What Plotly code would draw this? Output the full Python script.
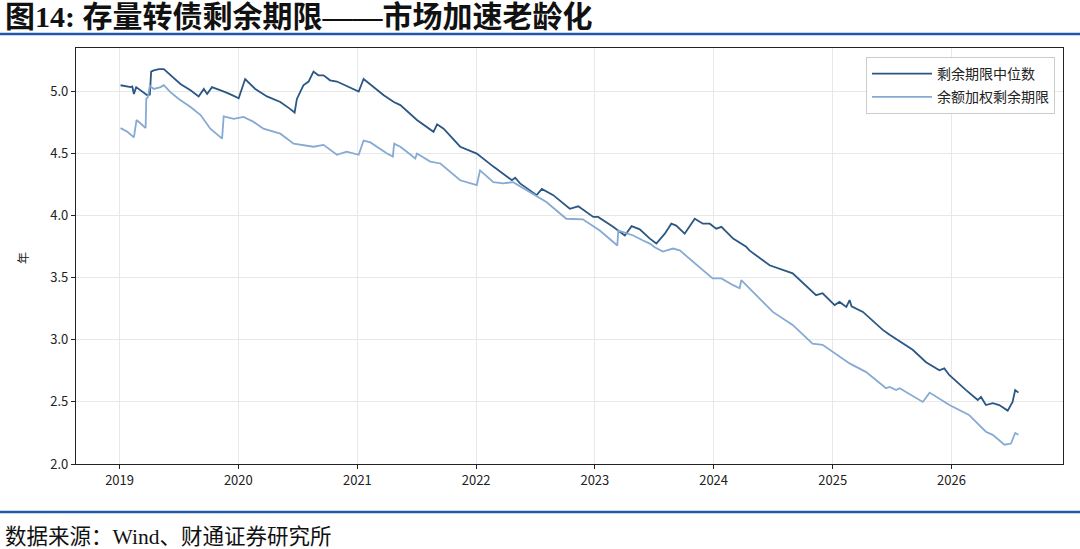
import plotly.graph_objects as go

# 剩余期限中位数 (dark line)
median_dates = [
    "2019-01-04", "2019-02-04", "2019-02-09", "2019-02-14", "2019-02-21", "2019-03-27", "2019-04-04",
    "2019-04-08", "2019-04-16", "2019-05-02", "2019-05-17", "2019-06-12", "2019-07-07", "2019-08-07",
    "2019-09-01", "2019-09-17", "2019-09-27", "2019-10-12", "2019-10-28", "2019-11-22", "2019-12-13",
    "2020-01-02", "2020-01-22", "2020-02-22", "2020-03-29", "2020-05-09", "2020-06-08", "2020-06-22",
    "2020-06-29", "2020-07-19", "2020-08-04", "2020-08-19", "2020-09-03", "2020-09-19", "2020-10-09",
    "2020-10-30", "2020-11-24", "2020-12-20", "2021-01-05", "2021-01-20", "2021-02-20", "2021-03-23",
    "2021-04-23", "2021-05-13", "2021-07-03", "2021-08-23", "2021-09-03", "2021-09-23", "2021-11-13",
    "2022-01-03", "2022-02-23", "2022-04-21", "2022-05-01", "2022-05-16", "2022-07-06", "2022-07-22",
    "2022-08-26", "2022-10-16", "2022-11-11", "2022-12-27", "2023-01-11", "2023-02-26", "2023-04-03",
    "2023-04-24", "2023-05-19", "2023-06-19", "2023-07-09", "2023-08-04", "2023-08-24", "2023-09-08",
    "2023-10-04", "2023-10-19", "2023-11-04", "2023-11-29", "2023-12-20", "2024-01-09", "2024-01-25",
    "2024-03-01", "2024-04-10", "2024-04-20", "2024-06-21", "2024-08-31", "2024-11-11", "2024-12-01",
    "2025-01-07", "2025-01-22", "2025-02-12", "2025-02-22", "2025-02-28", "2025-04-04", "2025-06-04",
    "2025-06-25", "2025-08-05", "2025-09-04", "2025-10-15", "2025-11-25", "2025-12-10", "2025-12-26",
    "2026-02-15", "2026-03-23", "2026-04-02", "2026-04-17", "2026-05-08", "2026-05-28", "2026-06-23",
    "2026-07-08", "2026-07-16", "2026-07-26",
]
median_values = [
    5.05, 5.035, 5.04, 4.98, 5.035, 4.97, 4.975,
    5.16, 5.17, 5.18, 5.18, 5.12, 5.06, 5.01,
    4.96, 5.02, 4.98, 5.035, 5.02, 4.995, 4.97,
    4.945, 5.10, 5.02, 4.96, 4.915, 4.86, 4.83,
    4.94, 5.05, 5.08, 5.16, 5.13, 5.13, 5.09,
    5.08, 5.05, 5.02, 5.00, 5.10, 5.035, 4.97,
    4.915, 4.89, 4.77, 4.675, 4.735, 4.70, 4.555,
    4.50, 4.395, 4.285, 4.305, 4.26, 4.165, 4.215,
    4.165, 4.055, 4.075, 3.99, 3.99, 3.91, 3.84,
    3.915, 3.89, 3.815, 3.775, 3.855, 3.935, 3.92,
    3.855, 3.91, 3.975, 3.935, 3.935, 3.895, 3.91,
    3.815, 3.75, 3.72, 3.60, 3.535, 3.36, 3.375,
    3.28, 3.305, 3.265, 3.32, 3.27, 3.225, 3.08,
    3.04, 2.97, 2.92, 2.82, 2.755, 2.77, 2.715,
    2.595, 2.515, 2.54, 2.475, 2.49, 2.475, 2.43,
    2.50, 2.595, 2.575,
]

# 余额加权剩余期限 (light line)
weighted_dates = [
    "2019-01-04", "2019-01-25", "2019-02-14", "2019-02-22", "2019-03-12", "2019-03-22", "2019-03-24",
    "2019-03-29", "2019-04-04", "2019-04-16", "2019-05-07", "2019-05-17", "2019-06-06", "2019-07-02",
    "2019-08-07", "2019-09-07", "2019-10-07", "2019-11-12", "2019-11-17", "2019-12-18", "2020-01-17",
    "2020-02-17", "2020-03-18", "2020-05-09", "2020-06-19", "2020-08-19", "2020-09-19", "2020-10-30",
    "2020-11-29", "2021-01-05", "2021-01-20", "2021-02-10", "2021-04-02", "2021-04-20", "2021-04-24",
    "2021-05-13", "2021-06-02", "2021-06-28", "2021-07-03", "2021-08-13", "2021-09-13", "2021-11-13",
    "2022-01-03", "2022-01-13", "2022-02-23", "2022-03-25", "2022-04-25", "2022-06-15", "2022-08-05",
    "2022-10-05", "2022-11-25", "2023-01-16", "2023-03-11", "2023-03-14", "2023-04-29", "2023-05-29",
    "2023-06-19", "2023-07-04", "2023-07-29", "2023-08-29", "2023-09-19", "2023-12-29", "2024-01-25",
    "2024-03-01", "2024-03-21", "2024-03-26", "2024-07-01", "2024-08-31", "2024-10-31", "2024-12-01",
    "2025-02-22", "2025-04-14", "2025-05-15", "2025-06-14", "2025-06-25", "2025-07-15", "2025-07-26",
    "2025-10-05", "2025-10-26", "2025-12-26", "2026-02-24", "2026-04-17", "2026-05-08", "2026-06-13",
    "2026-07-03", "2026-07-16", "2026-07-26",
]
weighted_values = [
    4.705, 4.675, 4.63, 4.77, 4.73, 4.705, 4.94,
    4.955, 5.045, 5.02, 5.035, 5.05, 4.995, 4.94,
    4.875, 4.81, 4.70, 4.62, 4.80, 4.78, 4.795,
    4.755, 4.70, 4.66, 4.58, 4.555, 4.57, 4.49,
    4.515, 4.49, 4.605, 4.59, 4.50, 4.475, 4.58,
    4.555, 4.515, 4.46, 4.50, 4.435, 4.42, 4.285,
    4.245, 4.365, 4.27, 4.26, 4.27, 4.19, 4.11,
    3.975, 3.97, 3.88, 3.76, 3.88, 3.84, 3.80,
    3.775, 3.745, 3.71, 3.735, 3.72, 3.495, 3.495,
    3.44, 3.415, 3.48, 3.225, 3.12, 2.97, 2.96,
    2.81, 2.74, 2.675, 2.61, 2.62, 2.595, 2.61,
    2.50, 2.575, 2.475, 2.395, 2.26, 2.235, 2.155,
    2.165, 2.25, 2.235,
]

series_names = ["剩余期限中位数", "余额加权剩余期限"]
x_tick_values = ["2019-01-01", "2020-01-01", "2021-01-01", "2022-01-01",
                 "2023-01-01", "2024-01-01", "2025-01-01", "2026-01-01"]
x_tick_labels = ["2019", "2020", "2021", "2022", "2023", "2024", "2025", "2026"]
y_tick_values = [2.0, 2.5, 3.0, 3.5, 4.0, 4.5, 5.0]
y_tick_labels = ["2.0", "2.5", "3.0", "3.5", "4.0", "4.5", "5.0"]

title_text = "<b>图14: 存量转债剩余期限——市场加速老龄化</b>"
source_text = "数据来源：Wind、财通证券研究所"
y_unit = "年"

CJK = "Noto Sans CJK SC"
SERIF_CJK = "Liberation Serif, Noto Sans CJK SC"

fig = go.Figure()
fig.add_trace(go.Scatter(x=median_dates, y=median_values, mode="lines",
                         name=series_names[0], legendgroup="a",
                         line=dict(color="#2a5783", width=1.8)))
fig.add_trace(go.Scatter(x=weighted_dates, y=weighted_values, mode="lines",
                         name=series_names[1], legendgroup="b",
                         line=dict(color="#85aad3", width=1.8)))

W, H = 1080, 549
L, R, T, B = 76, 17, 48, 85
pw, ph = W - L - R, H - T - B

def px(xp):
    return (xp - L) / pw

def py(yp):
    return (H - B - yp) / ph

fig.update_layout(
    width=W, height=H,
    margin=dict(l=L, r=R, t=T, b=B),
    paper_bgcolor="white", plot_bgcolor="white",
    showlegend=True,
    legend=dict(x=px(1055), y=py(57), xanchor="right", yanchor="top",
                bgcolor="rgba(255,255,255,0.9)", bordercolor="#cccccc", borderwidth=1,
                font=dict(family=CJK, size=14, color="#222222"),
                itemwidth=60, tracegroupgap=2),
    xaxis=dict(
        type="date",
        range=["2018-08-20", "2026-12-10"],
        tickvals=x_tick_values, ticktext=x_tick_labels,
        showgrid=True, gridcolor="#e8e8e8", gridwidth=1,
        showline=True, linecolor="#222222", linewidth=1.2, mirror=True,
        ticks="outside", ticklen=4, tickcolor="#222222",
        tickfont=dict(family=CJK, size=13, color="#222222"),
        zeroline=False,
    ),
    yaxis=dict(
        range=[2.0, 5.35],
        tickvals=y_tick_values, ticktext=y_tick_labels,
        showgrid=True, gridcolor="#e8e8e8", gridwidth=1,
        showline=True, linecolor="#222222", linewidth=1.2, mirror=True,
        ticks="outside", ticklen=4, tickcolor="#222222",
        tickfont=dict(family=CJK, size=13, color="#222222"),
        zeroline=False,
    ),
    shapes=[
        dict(type="line", xref="paper", yref="paper", x0=px(0), x1=px(W), y0=py(34), y1=py(34),
             line=dict(color="#1f5aa6", width=2.5)),
        dict(type="line", xref="paper", yref="paper", x0=px(0), x1=px(W), y0=py(512), y1=py(512),
             line=dict(color="#1f5aa6", width=2.5)),
    ],
    annotations=[
        dict(text=title_text, xref="paper", yref="paper", x=px(3), y=py(17),
             xanchor="left", yanchor="middle", showarrow=False,
             font=dict(family=SERIF_CJK, size=30, color="#111111")),
        dict(text=source_text, xref="paper", yref="paper", x=px(3), y=py(537),
             xanchor="left", yanchor="middle", showarrow=False,
             font=dict(family=SERIF_CJK, size=21.5, color="#111111")),
        dict(text=y_unit, xref="paper", yref="paper", x=px(22), y=py(258),
             xanchor="center", yanchor="middle", showarrow=False, textangle=-90,
             font=dict(family=CJK, size=12, color="#222222")),
    ],
)

fig.write_html(
    "out.html",
    config={"displayModeBar": False},
    post_script="document.body.style.margin='0';document.body.style.padding='0';document.body.style.overflow='hidden';",
)
